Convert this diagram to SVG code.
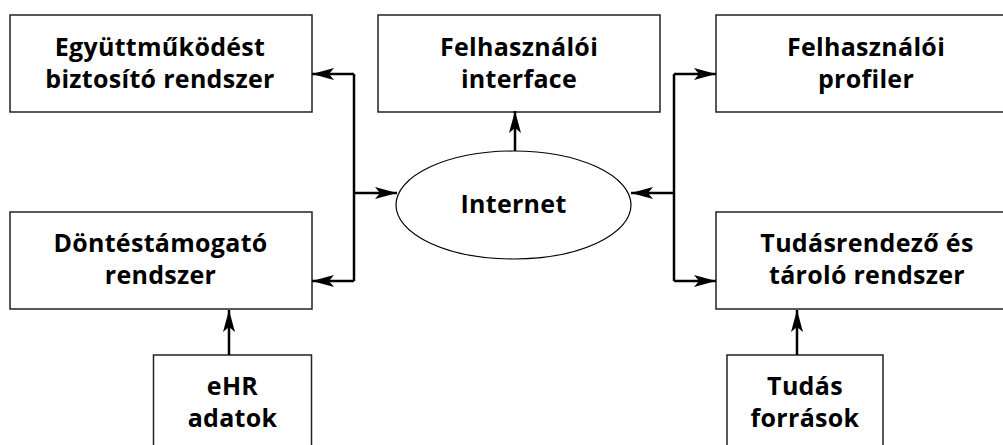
<svg xmlns="http://www.w3.org/2000/svg" width="1003" height="445" viewBox="0 0 1003 445">
<style>
.box{fill:#fff;stroke:#222;stroke-width:1.5}
.lbl{font-family:"Open Sans","Liberation Sans",sans-serif;font-weight:700;font-size:25px;fill:#000;text-anchor:middle;letter-spacing:0.3px}
.con{fill:none;stroke:#000;stroke-width:2.5}
</style>
<defs>
<marker id="ah" markerUnits="userSpaceOnUse" viewBox="0 0 22 12" refX="22" refY="6" markerWidth="22" markerHeight="12" orient="auto">
<path d="M0,0 L22,6 L0,12 L5,6 z" fill="#000"/>
</marker>
</defs>
<rect width="1003" height="445" fill="#fff"/>
<g id="egyuttmukodes">
<rect class="box" x="10" y="15" width="302" height="97"/>
<text class="lbl" x="160" y="56">Együttműködést</text>
<text class="lbl" x="160" y="88">biztosító rendszer</text>
</g>
<g id="felhasznaloi-interface">
<rect class="box" x="378" y="15" width="282" height="97"/>
<text class="lbl" x="519" y="56">Felhasználói</text>
<text class="lbl" x="519" y="88">interface</text>
</g>
<g id="felhasznaloi-profiler">
<rect class="box" x="716" y="15" width="302" height="97"/>
<text class="lbl" x="866" y="56">Felhasználói</text>
<text class="lbl" x="866" y="88">profiler</text>
</g>
<g id="internet">
<ellipse cx="513.5" cy="205" rx="117.5" ry="54" fill="#fff" stroke="#000" stroke-width="1.2"/>
<text class="lbl" x="513.5" y="213">Internet</text>
</g>
<g id="dontestamogato">
<rect class="box" x="10" y="212" width="302" height="97"/>
<text class="lbl" x="160.5" y="252">Döntéstámogató</text>
<text class="lbl" x="160.5" y="284">rendszer</text>
</g>
<g id="tudasrendezo">
<rect class="box" x="716" y="212" width="302" height="97"/>
<text class="lbl" x="867" y="252">Tudásrendező és</text>
<text class="lbl" x="867" y="284">tároló rendszer</text>
</g>
<g id="ehr">
<rect class="box" x="153.5" y="355" width="158" height="110"/>
<text class="lbl" x="232.5" y="395">eHR</text>
<text class="lbl" x="232.5" y="427">adatok</text>
</g>
<g id="tudas-forrasok">
<rect class="box" x="727" y="355" width="156" height="110"/>
<text class="lbl" x="805" y="395">Tudás</text>
<text class="lbl" x="805" y="427">források</text>
</g>
<g id="connectors">
<path class="con" d="M354,74 V281"/>
<path class="con" d="M354,74 H312" marker-end="url(#ah)"/>
<path class="con" d="M354,281 H312" marker-end="url(#ah)"/>
<path class="con" d="M354,193 H397" marker-end="url(#ah)"/>
<path class="con" d="M674,74 V281"/>
<path class="con" d="M674,74 H716" marker-end="url(#ah)"/>
<path class="con" d="M674,281 H716" marker-end="url(#ah)"/>
<path class="con" d="M674,193 H631" marker-end="url(#ah)"/>
<path class="con" d="M515,151 V111" marker-end="url(#ah)"/>
<path class="con" d="M229,355 V310" marker-end="url(#ah)"/>
<path class="con" d="M797,355 V310" marker-end="url(#ah)"/>
</g>
</svg>
